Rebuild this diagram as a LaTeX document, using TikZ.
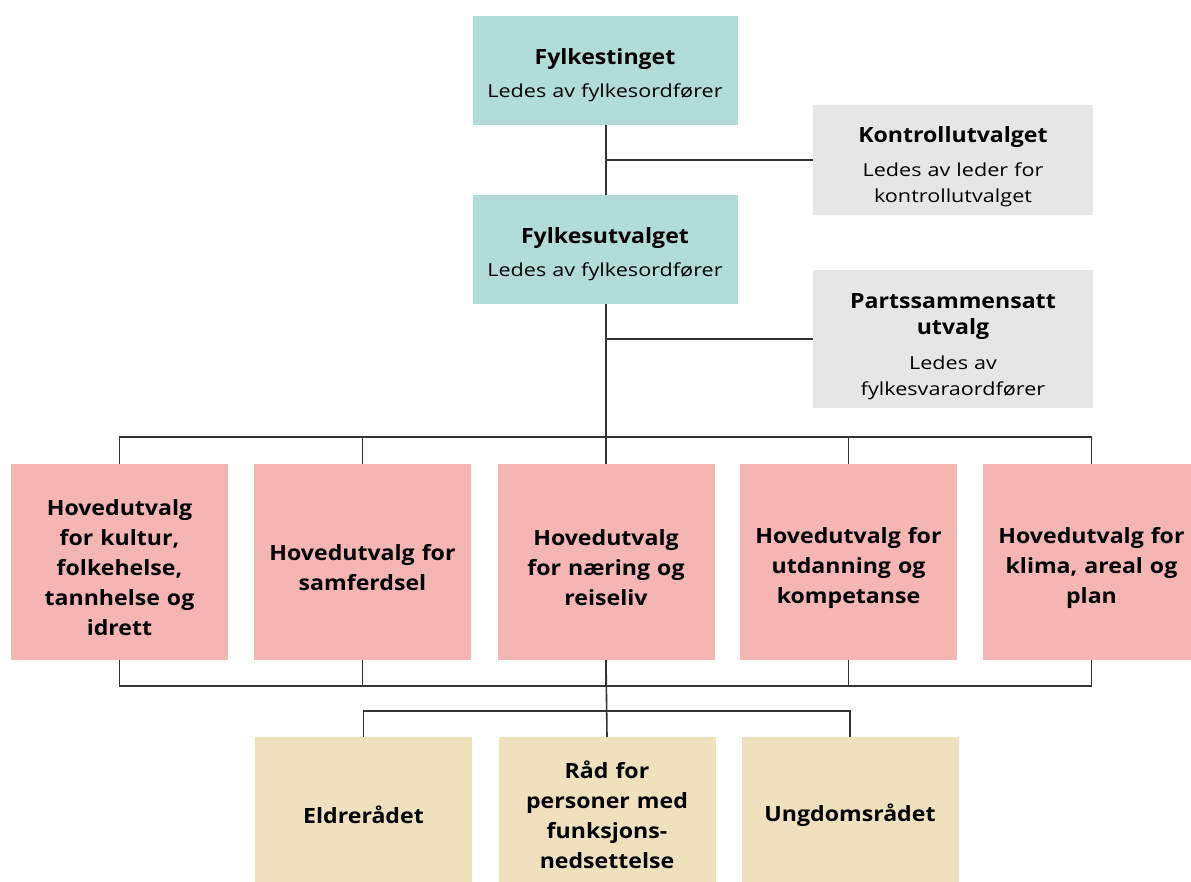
\documentclass[tikz,border=0pt]{standalone}
\usepackage{fontspec}
\setmainfont{Open Sans}[FakeStretch=1.2, BoldFeatures={FakeStretch=1.1}]
\definecolor{tealbox}{HTML}{B2DCD8}
\definecolor{greybox}{HTML}{E6E6E6}
\definecolor{pinkbox}{HTML}{F4B5B3}
\definecolor{sandbox}{HTML}{EFE0BE}
\definecolor{linegrey}{HTML}{333333}
\tikzset{
  boks/.style={inner sep=0pt, align=center, text=black},
  senk/.style={execute at begin node={\rule{0pt}{#1}}},
  topboks/.style={boks, fill=tealbox, minimum width=265, minimum height=109, text width=260,
    font=\fontsize{18}{26}\selectfont, senk=25pt},
  sideboks/.style={boks, fill=greybox, minimum width=280, text width=270,
    font=\fontsize{18}{26}\selectfont, senk=30pt},
  hovboks/.style={boks, fill=pinkbox, minimum width=217, minimum height=196, text width=210,
    font=\bfseries\fontsize{21}{30}\selectfont, senk=28pt},
  raadboks/.style={boks, fill=sandbox, minimum width=217, minimum height=156, text width=210,
    font=\bfseries\fontsize{21}{30}\selectfont},
  linje/.style={draw=linegrey, line width=1.6pt},
}
\newcommand{\tittel}[1]{{\bfseries\fontsize{21}{27}\selectfont #1}}
\begin{document}
\begin{tikzpicture}[x=1pt, y=-1pt]
	\useasboundingbox[fill=white] (0,0) rectangle (1191,881);
	% øverste nivå
	\node[topboks] (ting) at (605,70.5) {\tittel{Fylkestinget}\\[7pt] Ledes av fylkesordfører};
	\node[sideboks, minimum height=110] (kontroll) at (953,160) {\tittel{Kontrollutvalget}\\[8pt] Ledes av leder for\\ kontrollutvalget};
	\node[topboks] (utvalget) at (605,249.5) {\tittel{Fylkesutvalget}\\[7pt] Ledes av fylkesordfører};
	\node[sideboks, minimum height=138] (parts) at (953,339) {\tittel{Partssammensatt}\\ \tittel{utvalg}\\[9pt] Ledes av\\ fylkesvaraordfører};
	% hovedutvalgene
	\node[hovboks] (hov1) at (119.5,562) {Hovedutvalg\\ for kultur,\\ folkehelse,\\ tannhelse og\\ idrett};
	\node[hovboks] (hov2) at (362.5,562) {Hovedutvalg for\\ samferdsel};
	\node[hovboks] (hov3) at (606,562) {Hovedutvalg\\ for næring og\\ reiseliv};
	\node[hovboks] (hov4) at (848.5,562) {Hovedutvalg for\\ utdanning og\\ kompetanse};
	\node[hovboks] (hov5) at (1091.5,562) {Hovedutvalg for\\ klima, areal og\\ plan};
	% rådene
	\node[raadboks] (eldre) at (363.5,815) {Eldrerådet};
	\node[raadboks] (funk) at (607,815) {Råd for\\ personer med\\ funksjons-\\ nedsettelse};
	\node[raadboks] (ungdom) at (850,815) {Ungdomsrådet};
	% samleskinner
	\coordinate (skinne1) at (606,437);
	\coordinate (skinne2) at (606,686);
	\coordinate (skinne3) at (606,711);
	% linjer
	\draw[linje] (606,125) -- (606,195);
	\draw[linje] (kontroll.west) -- (kontroll.west -| skinne1);
	\draw[linje] (606,304) -- (skinne1);
	\draw[linje] (parts.west) -- (parts.west -| skinne1);
	\foreach \h in {hov1,hov2,hov3,hov4,hov5} {
		\draw[linje] (skinne1) -| (\h.north);
		\draw[linje] (\h.south) |- (skinne2);
	}
	\draw[linje] (hov3.south) -- (funk.north);
	\draw[linje] (skinne3) -| (eldre.north);
	\draw[linje] (skinne3) -| (ungdom.north);
\end{tikzpicture}
\end{document}
